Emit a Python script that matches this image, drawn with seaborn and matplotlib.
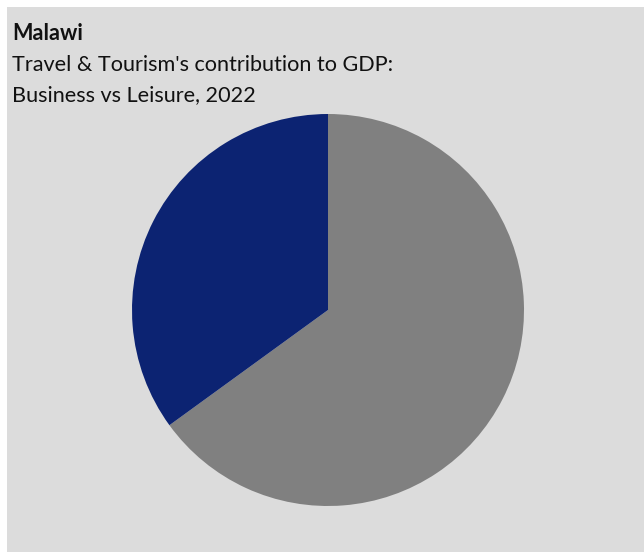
import seaborn as sns
import matplotlib.pyplot as plt
from matplotlib.patches import Rectangle

# spending share (%)
segments = ['Leisure', 'Business']
shares = [65, 35]
colours = ['#808080', '#0c2372']

sns.set_theme(style='white')
plt.rcParams['font.family'] = ['Lato', 'DejaVu Sans']

W, H = 644, 552
fig = plt.figure(figsize=(W / 100, H / 100), dpi=100, facecolor='white')

# grey panel, offset a little from the top-left corner
fig.patches.append(Rectangle((7 / W, 0), 1, (H - 7) / H, transform=fig.transFigure,
                             facecolor='#dcdcdc', edgecolor='none', zorder=-5))

ax = fig.add_axes([132 / W, (H - 506) / H, 392 / W, 392 / H])
ax.pie(shares, labels=None, colors=colours, startangle=90, counterclock=False,
       wedgeprops=dict(linewidth=0))
ax.set_xlim(-1, 1)
ax.set_ylim(-1, 1)
ax.set_aspect('equal')
ax.set_axis_off()

fs = 15.6
fig.text(12 / W, 1 - 40 / H, 'Malawi', fontsize=fs, fontweight='bold', color='#111111')
fig.text(12 / W, 1 - 71 / H, "Travel & Tourism's contribution to GDP:", fontsize=fs, color='#111111')
fig.text(12 / W, 1 - 101 / H, 'Business vs Leisure, 2022', fontsize=fs, color='#111111')

fig.savefig('out.png', dpi=100, facecolor='white')
